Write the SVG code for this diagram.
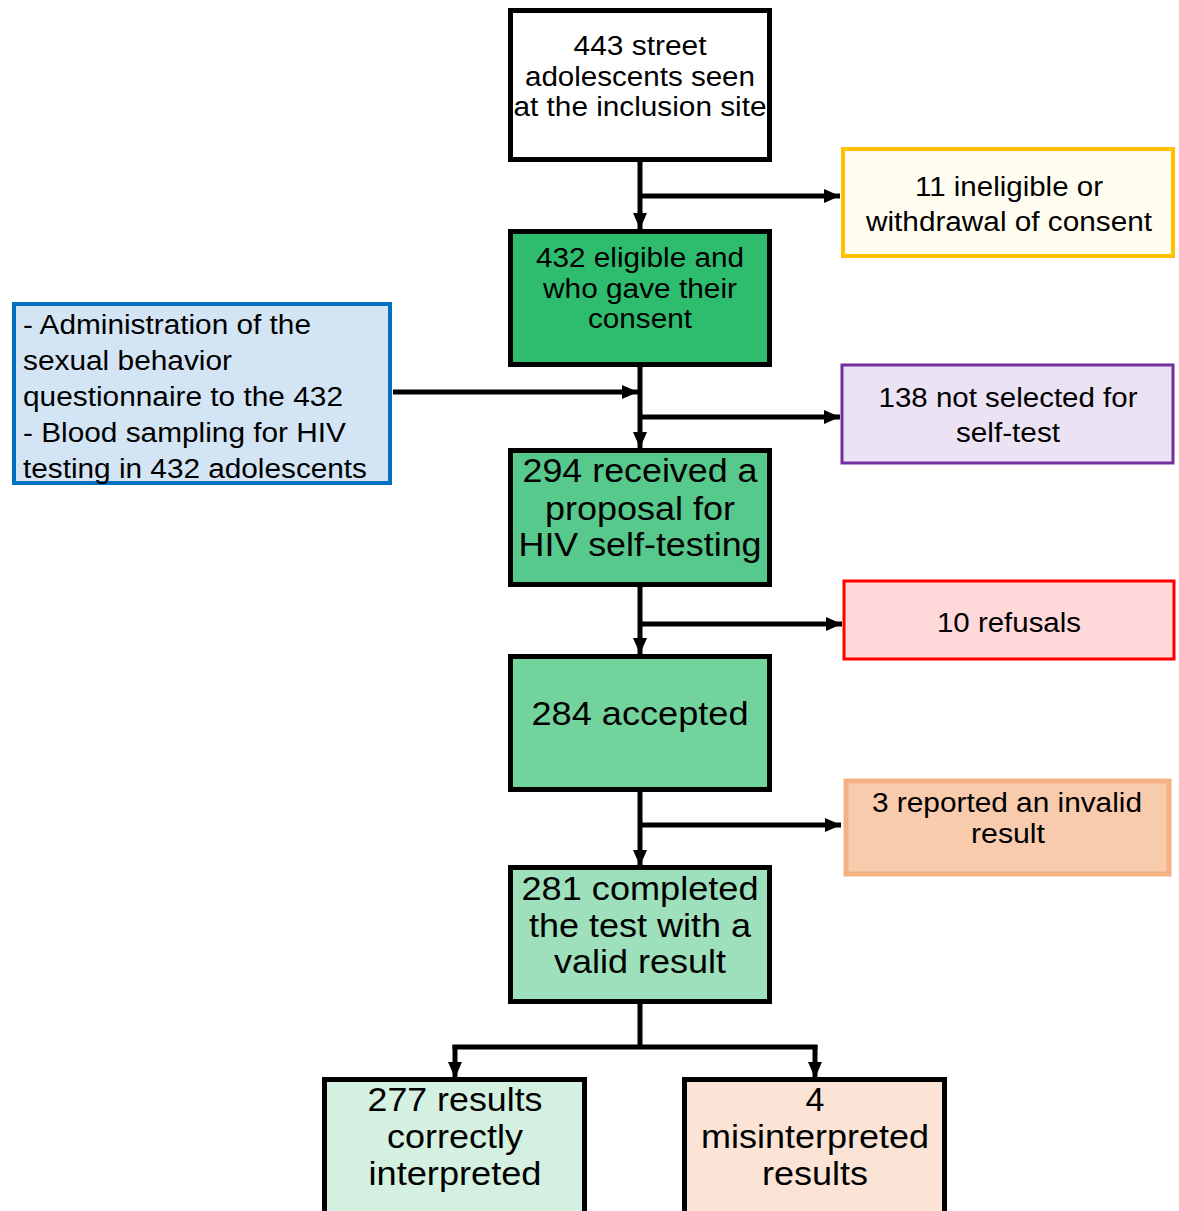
<svg xmlns="http://www.w3.org/2000/svg" width="1179" height="1211" viewBox="0 0 1179 1211">
<defs>
<marker id="ah" markerUnits="userSpaceOnUse" markerWidth="17" markerHeight="15" refX="16" refY="7" orient="auto">
<path d="M0,0 L16,7 L0,14 z" fill="#000"/>
</marker>
<style>
text{font-family:"Liberation Sans",Arial,sans-serif;fill:#000;}
.c{text-anchor:middle;}
.s27{font-size:27px;}
.s34{font-size:34px;}
.main{stroke:#000;stroke-width:5;}
.ln{fill:none;stroke:#000;stroke-width:5;}
</style>
</defs>
<rect width="1179" height="1211" fill="#fff"/>

<g id="connectors">
<path class="ln" d="M640,160 V229" marker-end="url(#ah)"/>
<path class="ln" d="M640,196 H840" marker-end="url(#ah)"/>
<path class="ln" d="M640,365 V448" marker-end="url(#ah)"/>
<path class="ln" d="M393,392 H638" marker-end="url(#ah)"/>
<path class="ln" d="M640,417 H840" marker-end="url(#ah)"/>
<path class="ln" d="M640,585 V654" marker-end="url(#ah)"/>
<path class="ln" d="M640,624 H842" marker-end="url(#ah)"/>
<path class="ln" d="M640,790 V866" marker-end="url(#ah)"/>
<path class="ln" d="M640,825 H841" marker-end="url(#ah)"/>
<path class="ln" d="M640,1002 V1047 M452.5,1047 H817.5"/>
<path class="ln" d="M455,1045 V1078" marker-end="url(#ah)"/>
<path class="ln" d="M815,1045 V1078" marker-end="url(#ah)"/>
</g>

<g id="n1">
<rect class="main" x="510.5" y="10.5" width="259" height="149" fill="#fff"/>
<text class="c s27" x="640" y="55" textLength="133" lengthAdjust="spacingAndGlyphs">443 street</text>
<text class="c s27" x="640" y="86" textLength="230" lengthAdjust="spacingAndGlyphs">adolescents seen</text>
<text class="c s27" x="640" y="116" textLength="253" lengthAdjust="spacingAndGlyphs">at the inclusion site</text>
</g>

<g id="n_ineligible">
<rect x="843" y="149" width="330" height="107" fill="#FFFCF0" stroke="#FFC000" stroke-width="4"/>
<text class="c s27" x="1009" y="196" textLength="188" lengthAdjust="spacingAndGlyphs">11 ineligible or</text>
<text class="c s27" x="1009" y="231" textLength="286" lengthAdjust="spacingAndGlyphs">withdrawal of consent</text>
</g>

<g id="n2">
<rect class="main" x="510.5" y="231.5" width="259" height="133" fill="#2EBD6E"/>
<text class="c s27" x="640" y="267" textLength="208" lengthAdjust="spacingAndGlyphs">432 eligible and</text>
<text class="c s27" x="640" y="298" textLength="194" lengthAdjust="spacingAndGlyphs">who gave their</text>
<text class="c s27" x="640" y="328" textLength="104" lengthAdjust="spacingAndGlyphs">consent</text>
</g>

<g id="n_procedures">
<rect x="14" y="304" width="376" height="179" fill="#D3E5F4" stroke="#0070C0" stroke-width="4"/>
<text class="s27" x="23" y="334" textLength="288" lengthAdjust="spacingAndGlyphs">- Administration of the</text>
<text class="s27" x="23" y="370" textLength="209" lengthAdjust="spacingAndGlyphs">sexual behavior</text>
<text class="s27" x="23" y="406" textLength="320" lengthAdjust="spacingAndGlyphs">questionnaire to the 432</text>
<text class="s27" x="23" y="442" textLength="323" lengthAdjust="spacingAndGlyphs">- Blood sampling for HIV</text>
<text class="s27" x="23" y="478" textLength="344" lengthAdjust="spacingAndGlyphs">testing in 432 adolescents</text>
</g>

<g id="n_notselected">
<rect x="842" y="365" width="331" height="98" fill="#EBE3F3" stroke="#7030A0" stroke-width="3"/>
<text class="c s27" x="1008" y="407" textLength="259" lengthAdjust="spacingAndGlyphs">138 not selected for</text>
<text class="c s27" x="1008" y="442" textLength="104" lengthAdjust="spacingAndGlyphs">self-test</text>
</g>

<g id="n3">
<rect class="main" x="510.5" y="450.5" width="259" height="134" fill="#57C98C"/>
<text class="c s34" x="640" y="482" textLength="235" lengthAdjust="spacingAndGlyphs">294 received a</text>
<text class="c s34" x="640" y="520" textLength="190" lengthAdjust="spacingAndGlyphs">proposal for</text>
<text class="c s34" x="640" y="556" textLength="243" lengthAdjust="spacingAndGlyphs">HIV self-testing</text>
</g>

<g id="n_refusals">
<rect x="844" y="581" width="330" height="78" fill="#FFD8DA" stroke="#FF0000" stroke-width="3"/>
<text class="c s27" x="1009" y="632" textLength="144" lengthAdjust="spacingAndGlyphs">10 refusals</text>
</g>

<g id="n4">
<rect class="main" x="510.5" y="656.5" width="259" height="133" fill="#73D39D"/>
<text class="c s34" x="640" y="725" textLength="217" lengthAdjust="spacingAndGlyphs">284 accepted</text>
</g>

<g id="n_invalid">
<rect x="846" y="781" width="323" height="93" fill="#F8CBAD" stroke="#F4B183" stroke-width="5"/>
<text class="c s27" x="1007" y="812" textLength="270" lengthAdjust="spacingAndGlyphs">3 reported an invalid</text>
<text class="c s27" x="1008" y="843" textLength="74" lengthAdjust="spacingAndGlyphs">result</text>
</g>

<g id="n5">
<rect class="main" x="510.5" y="867.5" width="259" height="134" fill="#9DE0BB"/>
<text class="c s34" x="640" y="900" textLength="237" lengthAdjust="spacingAndGlyphs">281 completed</text>
<text class="c s34" x="640" y="937" textLength="222" lengthAdjust="spacingAndGlyphs">the test with a</text>
<text class="c s34" x="640" y="973" textLength="172" lengthAdjust="spacingAndGlyphs">valid result</text>
</g>

<g id="n6">
<rect class="main" x="324.5" y="1079.5" width="260" height="140" fill="#D4F0E1"/>
<text class="c s34" x="455" y="1111" textLength="175" lengthAdjust="spacingAndGlyphs">277 results</text>
<text class="c s34" x="455" y="1148" textLength="136" lengthAdjust="spacingAndGlyphs">correctly</text>
<text class="c s34" x="455" y="1185" textLength="173" lengthAdjust="spacingAndGlyphs">interpreted</text>
</g>

<g id="n7">
<rect class="main" x="684.5" y="1079.5" width="260" height="140" fill="#FBE4D5"/>
<text class="c s34" x="815" y="1111">4</text>
<text class="c s34" x="815" y="1148" textLength="228" lengthAdjust="spacingAndGlyphs">misinterpreted</text>
<text class="c s34" x="815" y="1185" textLength="106" lengthAdjust="spacingAndGlyphs">results</text>
</g>
</svg>
